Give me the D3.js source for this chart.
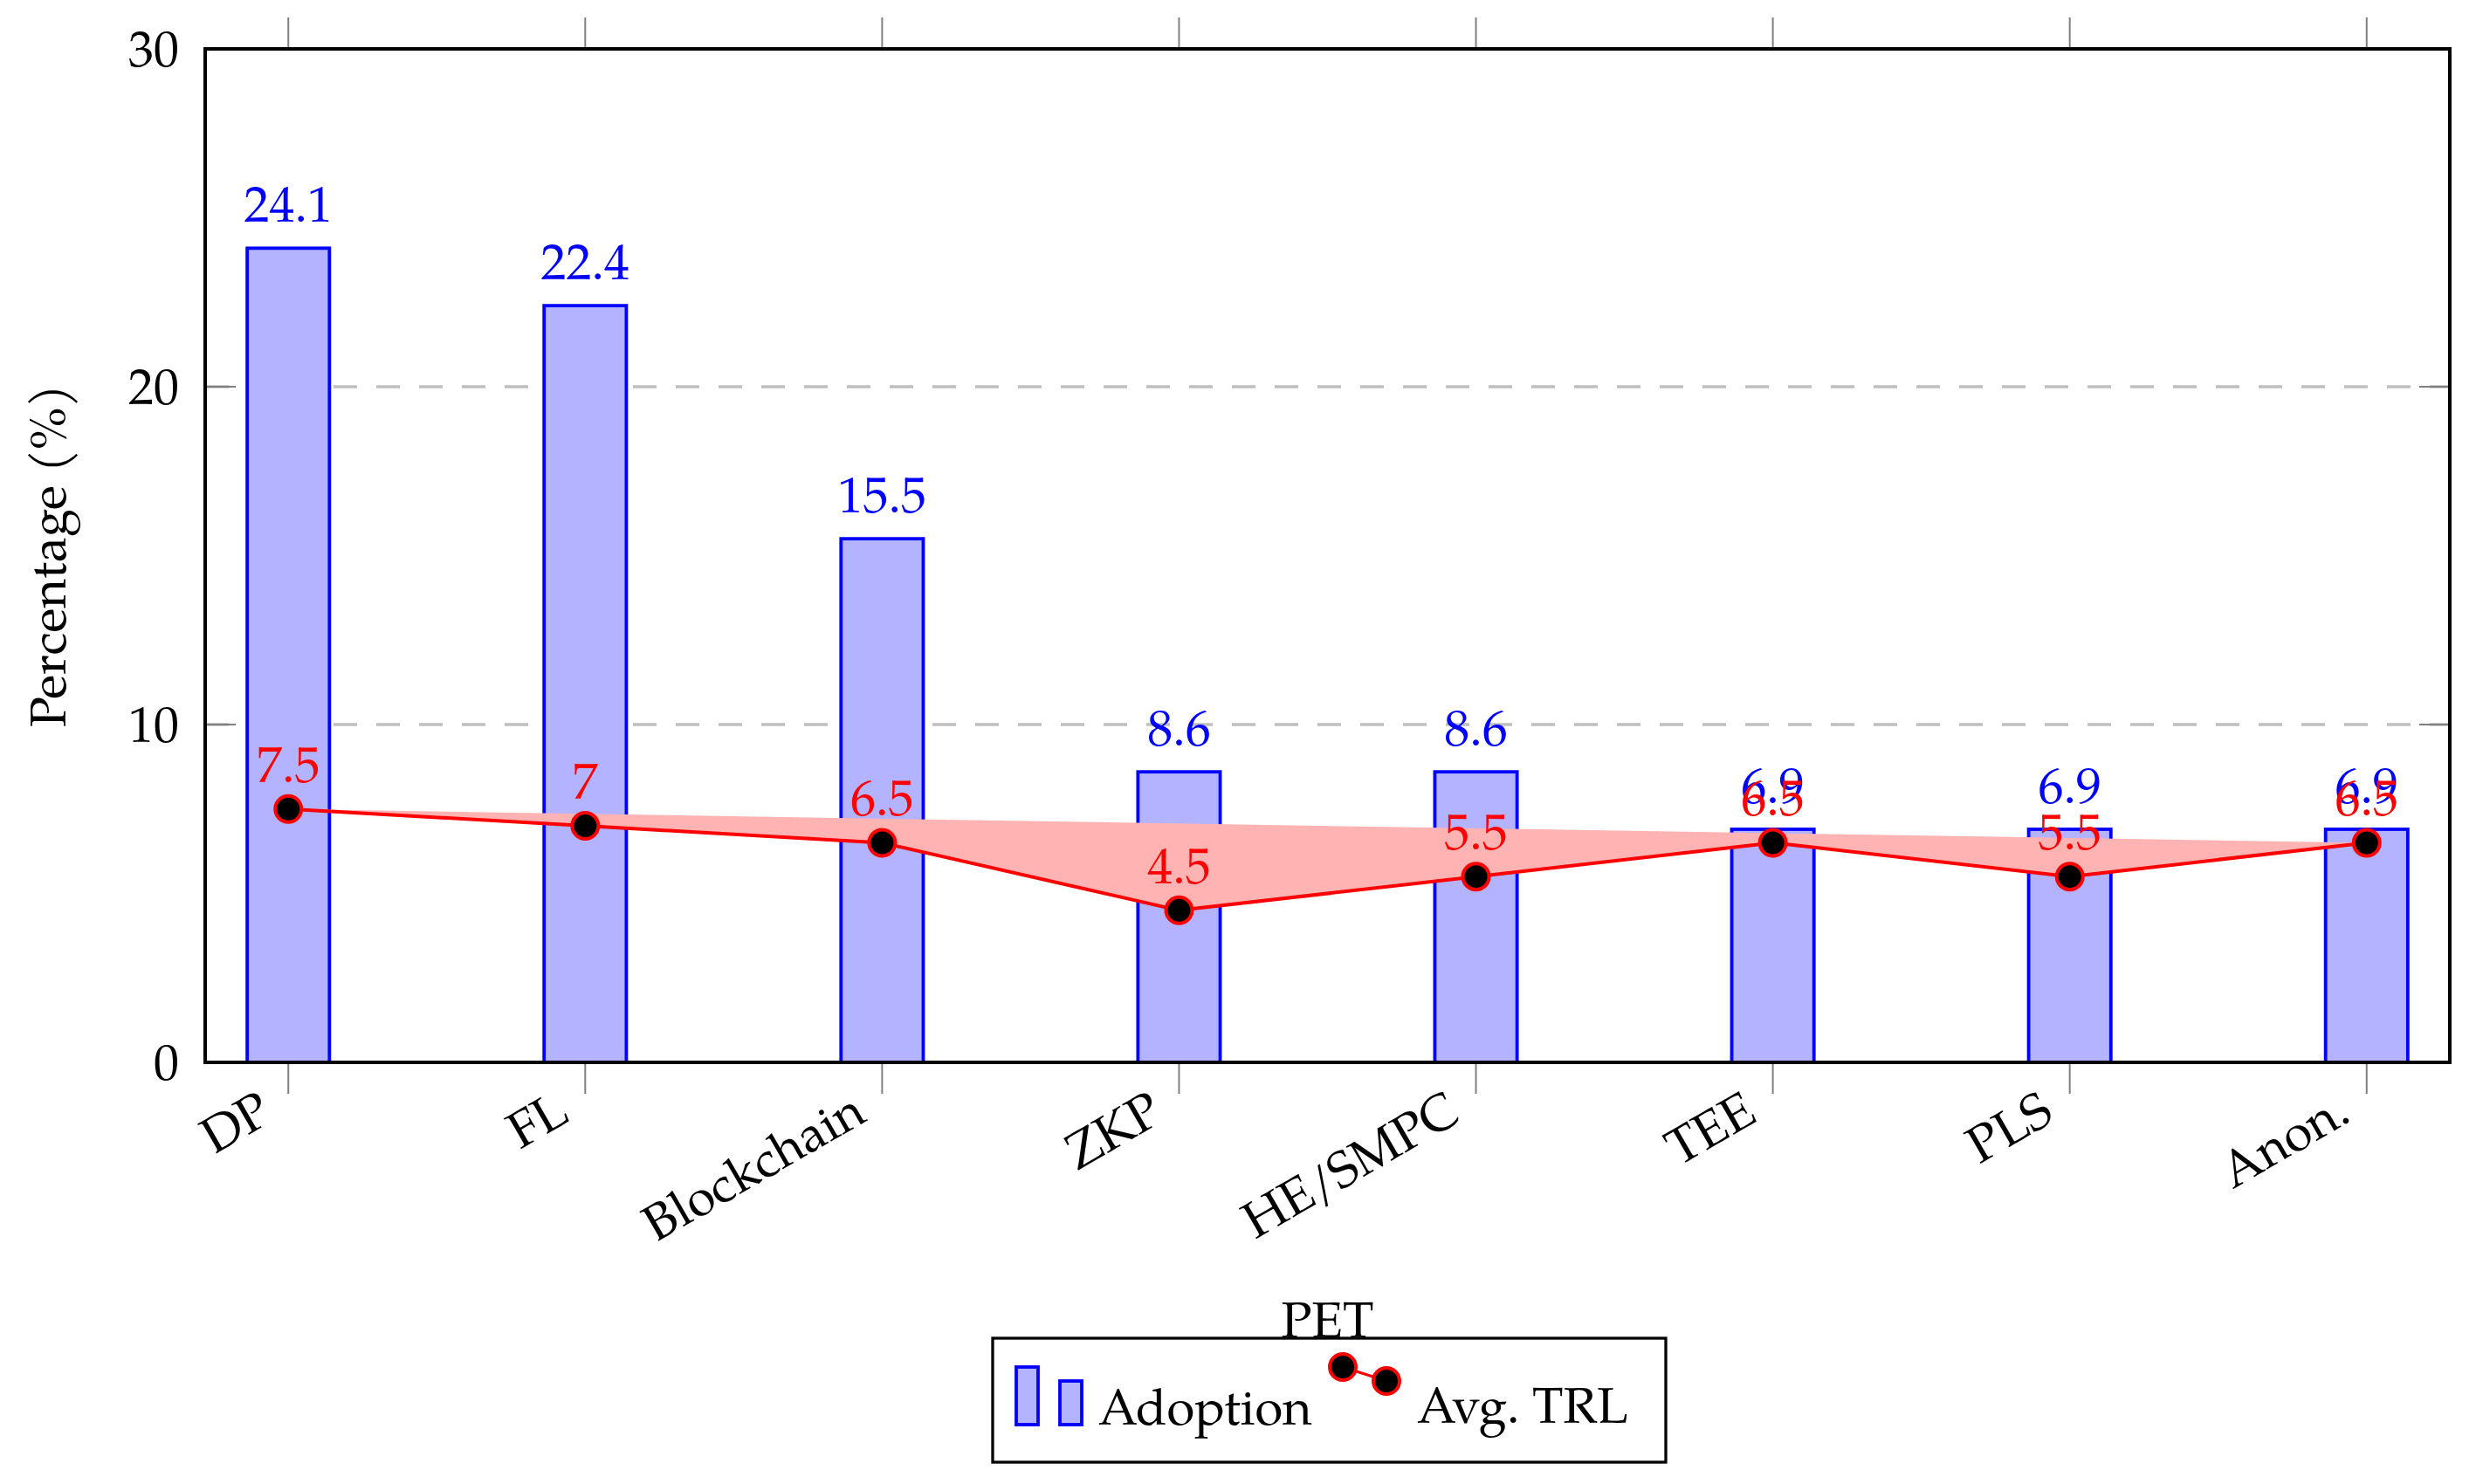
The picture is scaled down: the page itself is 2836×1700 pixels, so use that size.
<!DOCTYPE html>
<html>
<head>
<meta charset="utf-8">
<script src="https://cdn.jsdelivr.net/npm/d3@7"></script>
<style>
  html, body { margin: 0; padding: 0; background: #fff; }
  svg { display: block; }
  text { font-family: "Palatino Linotype", Palatino, "TeX Gyre Pagella", "Liberation Serif", serif; }
</style>
</head>
<body>
<script>
// ---- data ----
const categories = ["DP", "FL", "Blockchain", "ZKP", "HE/SMPC", "TEE", "PLS", "Anon."];
const adoption = [24.1, 22.4, 15.5, 8.6, 8.6, 6.9, 6.9, 6.9];
const avgTRL = [7.5, 7, 6.5, 4.5, 5.5, 6.5, 5.5, 6.5];
const yTicks = [0, 10, 20, 30];
const yGridValues = [10, 20];
const seriesNames = ["Adoption", "Avg. TRL"];
const yDomain = [0, 30];
const xLabel = "PET";
const yLabel = "Percentage (%)";

// ---- layout ----
const W = 2836, H = 1700;
const plot = { left: 235, right: 2806, top: 56, bottom: 1217 };
const FS = 58;
const barBlue = "#0000ff", barFill = "#b3b3ff";
const red = "#ff0000", redFill = "#ffb3b3";
const gray = "#808080";

const svg = d3.select("body").append("svg").attr("width", W).attr("height", H);

const x = d3.scalePoint().domain(categories).range([plot.left, plot.right]).padding(0.28);
const y = d3.scaleLinear().domain(yDomain).range([plot.bottom, plot.top]);
const barW = x.step() * 0.277;

const data = categories.map((c, i) => ({ cat: c, a: adoption[i], t: avgTRL[i] }));

// grid
svg.append("g").selectAll("line").data(yGridValues).join("line")
  .attr("x1", plot.left).attr("x2", plot.right)
  .attr("y1", d => y(d)).attr("y2", d => y(d))
  .attr("stroke", "#bfbfbf").attr("stroke-width", 3.5)
  .attr("stroke-dasharray", "27,22");

// y ticks inside (left and right)
const yt = svg.append("g");
yt.selectAll("line.l").data(yTicks).join("line").attr("class", "l")
  .attr("x1", plot.left).attr("x2", plot.left + 35)
  .attr("y1", d => y(d)).attr("y2", d => y(d))
  .attr("stroke", gray).attr("stroke-width", 2.2);
yt.selectAll("line.r").data(yTicks).join("line").attr("class", "r")
  .attr("x1", plot.right - 35).attr("x2", plot.right)
  .attr("y1", d => y(d)).attr("y2", d => y(d))
  .attr("stroke", gray).attr("stroke-width", 2.2);

// x ticks outside (top and bottom)
const xt = svg.append("g");
xt.selectAll("line.b").data(categories).join("line").attr("class", "b")
  .attr("x1", d => x(d)).attr("x2", d => x(d))
  .attr("y1", plot.bottom).attr("y2", plot.bottom + 36)
  .attr("stroke", gray).attr("stroke-width", 2);
xt.selectAll("line.t").data(categories).join("line").attr("class", "t")
  .attr("x1", d => x(d)).attr("x2", d => x(d))
  .attr("y1", plot.top - 36).attr("y2", plot.top)
  .attr("stroke", gray).attr("stroke-width", 2);

// bars
svg.append("g").selectAll("rect").data(data).join("rect")
  .attr("x", d => x(d.cat) - barW / 2)
  .attr("width", barW)
  .attr("y", d => y(d.a))
  .attr("height", d => y(0) - y(d.a))
  .attr("fill", barFill).attr("stroke", barBlue).attr("stroke-width", 3.8);

// bar labels
svg.append("g").selectAll("text").data(data).join("text")
  .attr("x", d => x(d.cat)).attr("y", d => y(d.a) - 30)
  .attr("text-anchor", "middle").attr("fill", barBlue)
  .attr("font-size", FS).text(d => String(d.a));

// TRL filled (closed) polygon
const lineGen = d3.line().x(d => x(d.cat)).y(d => y(d.t));
svg.append("path").datum(data)
  .attr("d", d => lineGen(d) + "Z")
  .attr("fill", redFill).attr("stroke", "none");
svg.append("path").datum(data)
  .attr("d", lineGen)
  .attr("fill", "none").attr("stroke", red).attr("stroke-width", 4)
  .attr("stroke-linejoin", "round");
svg.append("g").selectAll("circle").data(data).join("circle")
  .attr("cx", d => x(d.cat)).attr("cy", d => y(d.t)).attr("r", 15)
  .attr("fill", "#000").attr("stroke", red).attr("stroke-width", 4);
svg.append("g").selectAll("text").data(data).join("text")
  .attr("x", d => x(d.cat)).attr("y", d => y(d.t) - 31)
  .attr("text-anchor", "middle").attr("fill", red)
  .attr("font-size", FS).text(d => String(d.t));

// axis box
svg.append("rect")
  .attr("x", plot.left).attr("y", plot.top)
  .attr("width", plot.right - plot.left).attr("height", plot.bottom - plot.top)
  .attr("fill", "none").attr("stroke", "#000").attr("stroke-width", 4);

// y tick labels
svg.append("g").selectAll("text").data(yTicks).join("text")
  .attr("x", plot.left - 30).attr("y", d => y(d))
  .attr("dy", "0.34em")
  .attr("text-anchor", "end").attr("font-size", FS).attr("fill", "#000")
  .text(d => d);

// x tick labels (rotated)
svg.append("g").selectAll("text").data(categories).join("text")
  .attr("transform", d => `translate(${x(d) - 16},${plot.bottom + 66}) rotate(-30)`)
  .attr("text-anchor", "end").attr("font-size", FS).attr("fill", "#000")
  .text(d => d);

// axis labels
svg.append("text")
  .attr("transform", `translate(75,${(plot.top + plot.bottom) / 2}) rotate(-90)`)
  .attr("text-anchor", "middle").attr("font-size", FS).text(yLabel);
svg.append("text")
  .attr("x", (plot.left + plot.right) / 2).attr("y", 1532)
  .attr("text-anchor", "middle").attr("font-size", FS).text(xLabel);

// legend
const lg = svg.append("g").attr("transform", "translate(1137,1533)");
lg.append("rect").attr("x", 0).attr("y", 0).attr("width", 771).attr("height", 142)
  .attr("fill", "#fff").attr("stroke", "#000").attr("stroke-width", 3.3);
lg.append("rect").attr("x", 27).attr("y", 33).attr("width", 25).attr("height", 66)
  .attr("fill", barFill).attr("stroke", barBlue).attr("stroke-width", 3.8);
lg.append("rect").attr("x", 77).attr("y", 49).attr("width", 25).attr("height", 50)
  .attr("fill", barFill).attr("stroke", barBlue).attr("stroke-width", 3.8);
lg.append("text").attr("x", 121).attr("y", 99).attr("font-size", FS).text(seriesNames[0]);
lg.append("line").attr("x1", 401).attr("y1", 33).attr("x2", 451).attr("y2", 49)
  .attr("stroke", red).attr("stroke-width", 3.3);
lg.selectAll("circle").data([[401, 33], [451, 49]]).join("circle")
  .attr("cx", d => d[0]).attr("cy", d => d[1]).attr("r", 15)
  .attr("fill", "#000").attr("stroke", red).attr("stroke-width", 4);
lg.append("text").attr("x", 486).attr("y", 97).attr("font-size", FS).text(seriesNames[1]);
</script>
</body>
</html>
